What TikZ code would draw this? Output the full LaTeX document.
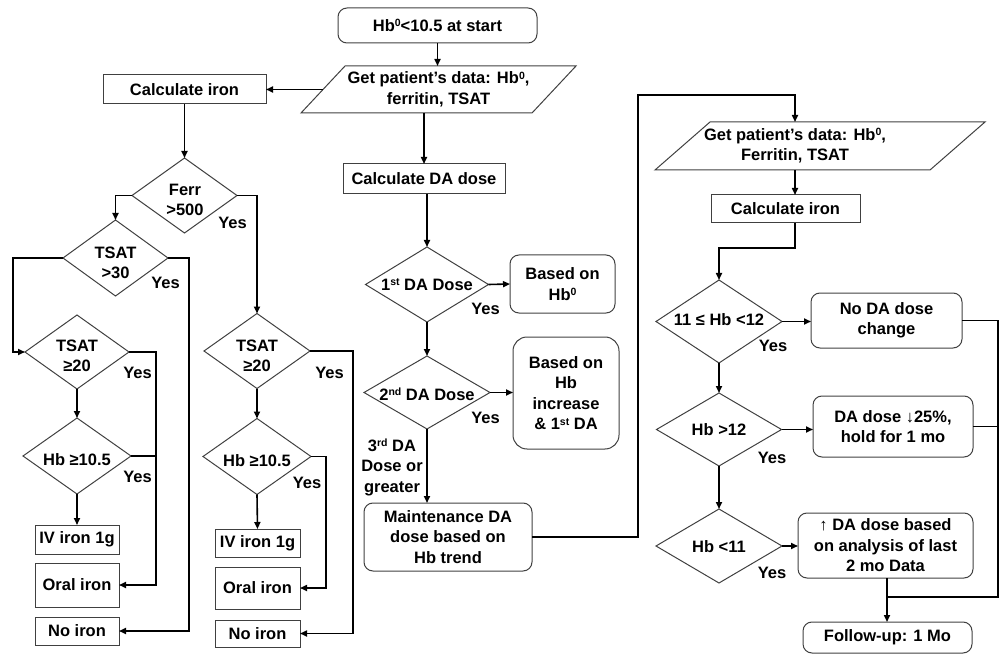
\documentclass[tikz,border=0pt]{standalone}
\usepackage{fontspec}
\setmainfont{Liberation Sans}
\usetikzlibrary{shapes.geometric,arrows.meta,calc}
\definecolor{bordc}{HTML}{404040}
\newcommand\myss[1]{\raisebox{4.6pt}{\fontsize{10.5}{10.5}\selectfont #1}}
\begin{document}
\begin{tikzpicture}[x=1pt,y=-1pt,
 font=\fontsize{16.5}{20.5}\selectfont\bfseries,
 bx/.style={draw=bordc,line width=1pt,inner sep=0pt,outer sep=0pt,align=center},
 rbx/.style={bx,rounded corners=9pt},
 dia/.style={diamond,draw=bordc,line width=1pt,inner sep=0pt,outer sep=0pt},
 txt/.style={inner sep=0pt,outer sep=0pt,align=center},
 arr/.style={line width=1.6pt,-{Triangle[length=7pt,width=6pt]}},
 ln/.style={line width=1.6pt},
 para/.style={draw=bordc,line width=1pt,line join=miter}
]
\useasboundingbox (0,0) rectangle (999,655);

% ---------- middle column ----------
\node[rbx,minimum width=199pt,minimum height=35pt] (hb0) at (437.5,25.5) {Hb\myss{0}<10.5 at start};
\node[txt,minimum width=275pt,minimum height=47pt] (gp1) at (438.5,89.5) {Get patient’s data: Hb\myss{0},\\ferritin, TSAT};
\draw[para] ([xshift=44pt]gp1.north west) -- (gp1.north east) -- ([xshift=-44pt]gp1.south east) -- (gp1.south west) -- cycle;
\coordinate (gp1L) at ([xshift=22pt]gp1.west);
\node[bx,minimum width=162pt,minimum height=30pt] (cda) at (424,179) {Calculate DA dose};
\node[dia,minimum width=123pt,minimum height=75pt] (d1) at (427,284.5) {};
\node[txt] (d1t) at (d1) {1\myss{st} DA Dose};
\node[rbx,minimum width=105pt,minimum height=58pt] (b1) at (562.5,284) {Based on\\Hb\myss{0}};
\node[dia,minimum width=126pt,minimum height=73pt] (d2) at (427,392.5) {};
\node[txt] (d2t) at (427,394) {2\myss{nd} DA Dose};
\node[bx,rounded corners=14pt,minimum width=106pt,minimum height=112pt] (b2) at (566,393) {Based on\\Hb\\increase\\\& 1\myss{st} DA};
\node[txt] (third) at (392,467.5) {3\myss{rd} DA\\Dose or\\greater};
\node[rbx,minimum width=168pt,minimum height=68pt] (maint) at (448,537) {Maintenance DA\\dose based on\\Hb trend};

\draw[arr] (hb0.south) -- (hb0.south |- gp1.north);
\draw[arr] (cda.north |- gp1.south) -- (cda.north);
\draw[arr] (d1.north |- cda.south) -- (d1.north);
\draw[arr] (d1.east) -- (b1.west);
\draw[arr] (d1.south) -- (d2.north);
\draw[arr] (d2.east) -- (d2.east -| b2.west);
\draw[arr] (d2.south) -- (d2.south |- maint.north);
\node[txt] (y1) at (485.5,309) {Yes};
\node[txt] (y2) at (485.5,418) {Yes};

% ---------- left: iron ----------
\node[bx,minimum width=163pt,minimum height=29pt] (ci1) at (184.5,89.5) {Calculate iron};
\node[dia,minimum width=105pt,minimum height=75pt] (ferr) at (184.5,195.5) {};
\node[txt] (ferrt) at (185,200) {Ferr\\>500};
\node[dia,minimum width=105pt,minimum height=76pt] (ts30) at (115.5,258) {};
\node[txt] (ts30t) at (115.5,263) {TSAT\\>30};
\node[dia,minimum width=104pt,minimum height=74pt] (ts20a) at (77,352) {};
\node[txt] (ts20at) at (77,356) {TSAT\\≥20};
\node[dia,minimum width=108pt,minimum height=76pt] (hb1) at (77,456) {};
\node[txt] (hb1t) at (77,460) {Hb ≥10.5};
\node[bx,minimum width=84pt,minimum height=29pt] (iv1) at (77,539.5) {IV iron 1g};
\node[bx,minimum width=84pt,minimum height=44pt] (or1) at (77,585) {Oral iron};
\node[bx,minimum width=84pt,minimum height=28pt] (no1) at (77,631) {No iron};

\node[dia,minimum width=106pt,minimum height=75pt] (ts20b) at (257,351) {};
\node[txt] (ts20bt) at (257,356) {TSAT\\≥20};
\node[dia,minimum width=108pt,minimum height=76pt] (hb2) at (257,456.5) {};
\node[txt] (hb2t) at (257,461) {Hb ≥10.5};
\node[bx,minimum width=85pt,minimum height=28pt] (iv2) at (257.5,543) {IV iron 1g};
\node[bx,minimum width=85pt,minimum height=42pt] (or2) at (257.5,588) {Oral iron};
\node[bx,minimum width=85pt,minimum height=27pt] (no2) at (257.5,633.5) {No iron};

\node[txt] (y3) at (232.5,223) {Yes};
\node[txt] (y4) at (165.5,283) {Yes};
\node[txt] (y5) at (137.5,373) {Yes};
\node[txt] (y6) at (137.5,477) {Yes};
\node[txt] (y7) at (329.5,373) {Yes};
\node[txt] (y8) at (307,483) {Yes};

\draw[arr] (gp1L) -- (ci1.east);
\draw[arr] (ci1.south) -- (ferr.north);
\draw[arr] (ferr.west) -| (ts30.north);
\draw[arr] (ferr.east) -| (ts20b.north);
\draw[arr] (ts30.west) -- ++(-50,0) |- (ts20a.west);
\draw[arr] (ts30.east) -- ++(21,0) |- (no1.east);
\draw[arr] (ts20a.east) -- ++(27,0) |- (or1.east);
\draw[ln] (hb1.east) -- ++(25,0);
\draw[arr] (ts20a.south) -- (hb1.north);
\draw[arr] (hb1.south) -- (iv1.north);
\draw[arr] (ts20b.east) -- ++(43,0) |- (no2.east);
\draw[arr] (hb2.east) -- ++(15,0) |- (or2.east);
\draw[arr] (ts20b.south) -- (hb2.north);
\draw[arr] (hb2.south) -- (iv2.north);

% ---------- right column ----------
\node[txt,minimum width=330pt,minimum height=48pt] (gp2) at (820,146) {};
\draw[para] ([xshift=55pt]gp2.north west) -- (gp2.north east) -- ([xshift=-55pt]gp2.south east) -- (gp2.south west) -- cycle;
\node[txt] (gp2t) at (795,146) {Get patient’s data: Hb\myss{0},\\Ferritin, TSAT};
\node[bx,minimum width=149pt,minimum height=28pt] (ci2) at (785.5,209) {Calculate iron};
\node[dia,minimum width=126pt,minimum height=83pt] (dA) at (719,321.5) {};
\node[txt] (dAt) at (719,320) {11 ≤ Hb <12};
\node[rbx,minimum width=151pt,minimum height=55pt] (nc) at (886.5,320.5) {No DA dose\\change};
\node[dia,minimum width=125pt,minimum height=73pt] (dB) at (719,429.5) {};
\node[txt] (dBt) at (719,430) {Hb >12};
\node[rbx,minimum width=160pt,minimum height=61pt] (dec) at (893,426.5) {DA dose ↓25\%,\\hold for 1 mo};
\node[dia,minimum width=126pt,minimum height=74pt] (dC) at (719,546) {};
\node[txt] (dCt) at (719,547) {Hb <11};
\node[rbx,minimum width=175pt,minimum height=65pt] (inc) at (885.5,545.5) {↑ DA dose based\\on analysis of last\\2 mo Data};
\node[rbx,minimum width=169pt,minimum height=31pt] (fu) at (887.5,637.5) {Follow-up: 1 Mo};
\node[txt] (y9) at (773,346) {Yes};
\node[txt] (y10) at (772,458) {Yes};
\node[txt] (y11) at (772,573) {Yes};

\coordinate (turn) at (638,95);
\coordinate (gp2top) at (gp2t.north |- gp2.north);
\draw[arr] (maint.east) -| (turn) -| (gp2top);
\draw[arr] (gp2t.south |- gp2.south) -- (gp2t.south |- ci2.north);
\draw[arr] (gp2t.south |- ci2.south) -- ++(0,25) -| (dA.north);
\draw[arr] (dA.east) -- (dA.east -| nc.west);
\draw[arr] (dA.south) -- (dB.north);
\draw[arr] (dB.east) -- (dB.east -| dec.west);
\draw[arr] (dB.south) -- (dC.north);
\draw[arr] (dC.east) -- (dC.east -| inc.west);
\coordinate (j) at (887,597);
\draw[ln] (nc.east) -- ++(36,0) |- (j);
\draw[ln] (dec.east) -- ++(25,0);
\draw[arr] (j |- inc.south) -- (j |- fu.north);
\end{tikzpicture}
\end{document}
